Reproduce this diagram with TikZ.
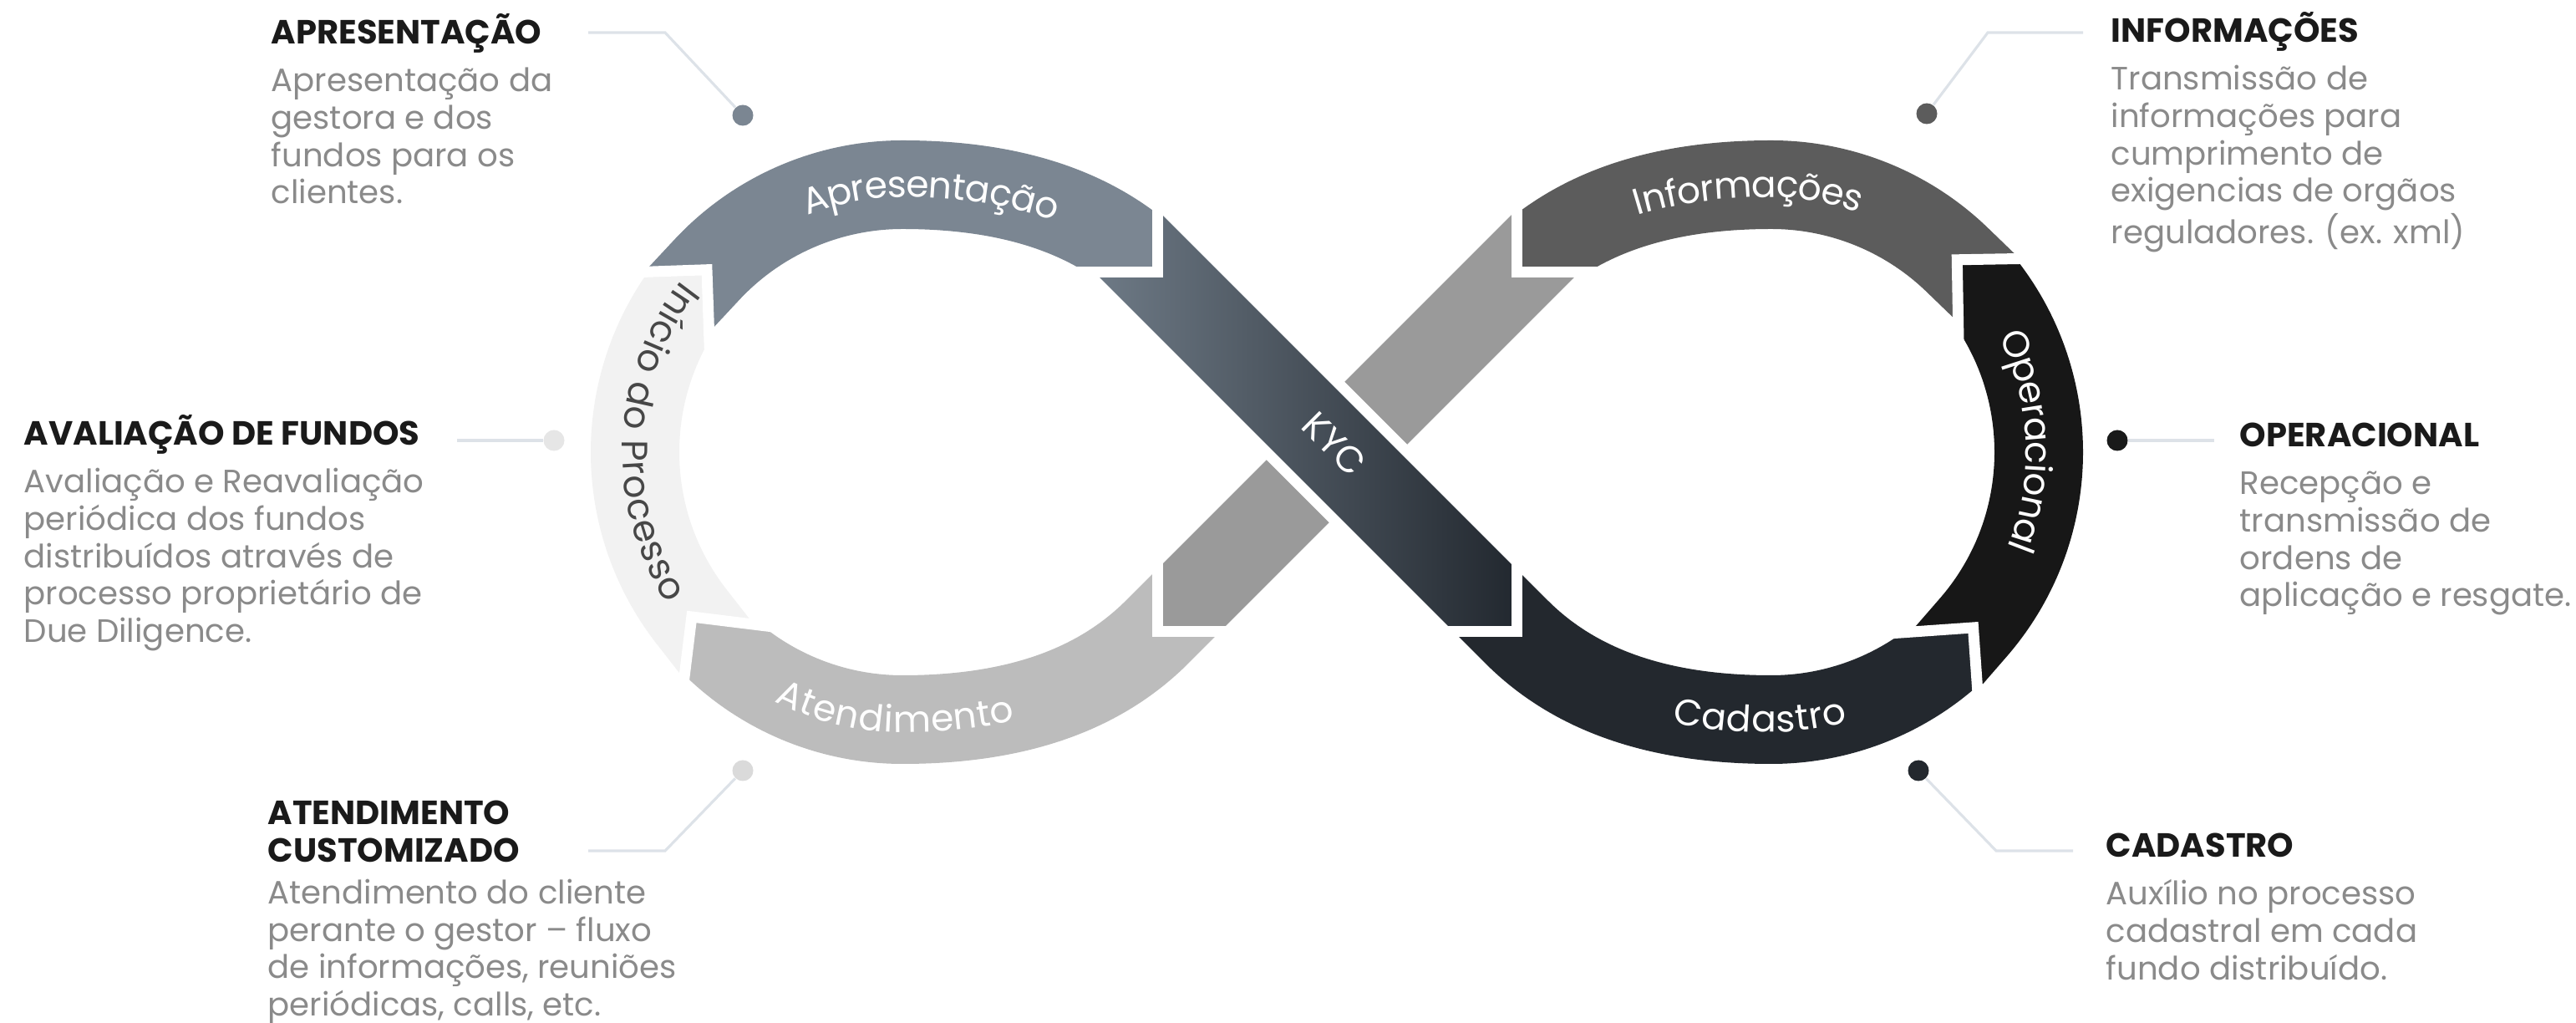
\documentclass[tikz,border=0pt]{standalone}
\usepackage{fontspec}
\setmainfont{Poppins}
\usetikzlibrary{calc,decorations.text}

\definecolor{apresgray}{HTML}{7B8692}
\definecolor{kyclight}{HTML}{6E7A86}
\definecolor{kycdark}{HTML}{22282F}
\definecolor{cadgray}{HTML}{23282E}
\definecolor{opblack}{HTML}{171717}
\definecolor{infogray}{HTML}{5C5C5C}
\definecolor{diaggray}{HTML}{9A9A9A}
\definecolor{atendgray}{HTML}{BCBCBC}
\definecolor{iniciogray}{HTML}{F2F2F2}
\definecolor{iniciotext}{HTML}{474747}
\definecolor{headblack}{HTML}{1A1A1A}
\definecolor{bodygray}{HTML}{8A8A8A}
\definecolor{leadgray}{HTML}{DDE2E8}

\newcommand{\bandfont}{\fontsize{12.5}{15}\selectfont}
\newcommand{\bodyfont}{\fontsize{11}{12.7}\selectfont}
\newcommand{\headfont}{\color{headblack}\bfseries\fontsize{11.4}{12.7}\selectfont}

% one piece of the loop: colour, start junction, start dir, end junction, end dir, path
\newcommand{\loopband}[6]{%
  \begin{scope}
    \clip[shift={(#2)}, rotate=#3]
      (-40,-40) -- (40,-40) -- (40,40) -- (-40,40) -- cycle
      (0,0) -- (-1,-1) -- (-1,1) -- cycle;
    \clip[shift={(#4)}, rotate=#5]
      (-40,-40) -- (40,-40) -- (40,40) -- (-40,40) -- cycle
      (0,0) -- (-1,1) -- (0.05,1) -- cycle (0,0) -- (0.05,-1) -- (-1,-1) -- cycle;
    \draw[#1, line width=1.06cm] ($(#2)+(#3:-0.6)$) -- (#2) #6;
  \end{scope}}

\begin{document}
\begin{tikzpicture}[
  lead/.style={draw=leadgray, line width=0.9pt},
  dot/.style={circle, inner sep=0pt, minimum size=0.25cm},
  info/.style={anchor=base west, inner sep=0pt, text=bodygray, font=\bodyfont},
  gapline/.style={white, line width=0.13cm, line join=miter},
  bandlabel/.style={decorate, decoration={text along path, text align=center,
    raise=-4.3pt, text={|\bandfont\color{white}|#1}}},
  darklabel/.style={decorate, decoration={text along path, text align=center,
    raise=-4.3pt, text={|\bandfont\color{iniciotext}|#1}}},
  toleft/.style={decoration={text align={center, right indent=#1}}},
  toright/.style={decoration={text align={center, left indent=#1}}}]
\useasboundingbox (0,0) rectangle (30.83,12.24);

\coordinate (x0) at (16.00,6.83);
\coordinate (cl) at (10.80,6.83);
\coordinate (cr) at (21.20,6.83);
\coordinate (pa) at (13.85,8.98);
\coordinate (pb) at (13.85,4.68);
\coordinate (pc) at (18.15,8.98);
\coordinate (pd) at (18.15,4.68);
\coordinate (j1) at ($(cl)+(218:3.2)$);
\coordinate (j2) at ($(cl)+(137:3.2)$);
\coordinate (j3) at ($(cr)+(319:3.2)$);
\coordinate (j4) at ($(cr)+(46:3.2)$);

% left loop
\loopband{atendgray}{pb}{225}{j1}{128}{.. controls (13.15,3.98) and (12.15,3.63) .. (10.80,3.63) arc[start angle=270, end angle=218, radius=3.2]}
\loopband{iniciogray}{j1}{128}{j2}{47}{arc[start angle=218, end angle=137, radius=3.2]}
\loopband{apresgray}{j2}{47}{pa}{-45}{arc[start angle=137, end angle=90, radius=3.2] .. controls (12.15,10.03) and (13.15,9.68) .. (pa)}
% right loop
\loopband{cadgray}{pd}{-45}{j3}{49}{.. controls (18.85,3.98) and (19.85,3.63) .. (21.20,3.63) arc[start angle=270, end angle=319, radius=3.2]}
\loopband{opblack}{j3}{49}{j4}{136}{arc[start angle=319, end angle=406, radius=3.2]}
\loopband{infogray}{j4}{136}{pc}{225}{arc[start angle=46, end angle=90, radius=3.2] .. controls (19.85,10.03) and (18.85,9.68) .. (pc)}

% crossing
\fill[diaggray, shift={(x0)}, rotate=225] (-3.57,0.53) -- (2.51,0.53) -- (3.04,0) -- (2.51,-0.53) -- (-3.57,-0.53) -- (-3.04,0) -- cycle;
\fill[white, shift={(x0)}, rotate=-45] (-1.3,-0.66) rectangle (1.3,0.66);
\shade[left color=kyclight, right color=kycdark, shift={(x0)}, rotate=-45] (-3.57,0.53) -- (2.51,0.53) -- (3.04,0) -- (2.51,-0.53) -- (-3.57,-0.53) -- (-3.04,0) -- cycle;

\foreach \j/\a in {pb/225, j1/128, j2/47, pa/-45, pd/-45, j3/49, j4/136, pc/225}
  \draw[gapline, shift={(\j)}, rotate=\a] (-0.85,0.85) -- (0,0) -- (-0.85,-0.85);

% labels on the loop
\path[bandlabel=Apresentação] (j2) arc[start angle=137, end angle=90, radius=3.2] .. controls (12.15,10.03) and (13.15,9.68) .. (pa);
\path[darklabel=Início do Processo] (j2) arc[start angle=137, end angle=218, radius=3.2];
\path[bandlabel=Atendimento, toleft=0.6cm] (j1) arc[start angle=218, end angle=270, radius=3.2] .. controls (12.15,3.63) and (13.15,3.98) .. (pb);
\path[bandlabel=Cadastro, toright=0.3cm] (pd) .. controls (18.85,3.98) and (19.85,3.63) .. (21.20,3.63) arc[start angle=270, end angle=319, radius=3.2];
\path[bandlabel=Operacional] (j4) arc[start angle=46, end angle=-41, radius=3.2];
\path[bandlabel=Informações, toright=0.3cm] (pc) .. controls (18.85,9.68) and (19.85,10.03) .. (21.20,10.03) arc[start angle=90, end angle=46, radius=3.2];
\node[rotate=-45, text=white, font=\bandfont] (kyc) at (15.97,6.93) {KYC};

% callouts
\node[dot, fill=apresgray] (dA) at (8.89,10.86) {};
\node[dot, fill=infogray] (dI) at (23.06,10.88) {};
\node[dot, fill=iniciogray!95!black] (dV) at (6.63,6.97) {};
\node[dot, fill=opblack!85!cadgray] (dO) at (25.34,6.97) {};
\node[dot, fill=atendgray!55] (dT) at (8.89,3.02) {};
\node[dot, fill=cadgray] (dC) at (22.96,3.02) {};
\coordinate (kA) at (7.96,11.85); \coordinate (eA) at (7.04,11.85);
\coordinate (kI) at (23.79,11.85); \coordinate (eI) at (24.93,11.85);
\coordinate (eV) at (5.47,6.97);
\coordinate (eO) at (26.50,6.97);
\coordinate (kT) at (7.96,2.06); \coordinate (eT) at (7.04,2.06);
\coordinate (kC) at (23.89,2.06); \coordinate (eC) at (24.81,2.06);
\draw[lead] (dA) -- (kA) -- (eA);
\draw[lead] (dI) -- (kI) -- (eI);
\draw[lead] (dV) -- (eV);
\draw[lead] (dO) -- (eO);
\draw[lead] (dT) -- (kT) -- (eT);
\draw[lead] (dC) -- (kC) -- (eC);

\node[info] (apres) at (3.24,11.71) {\begin{tabular}[t]{@{}l@{}}\headfont APRESENTAÇÃO\\[3.5pt]
  Apresentação da\\ gestora e dos\\ fundos para os\\ clientes.\end{tabular}};
\node[info] (infor) at (25.26,11.73) {\begin{tabular}[t]{@{}l@{}}\headfont INFORMAÇÕES\\[3.5pt]
  Transmissão de\\ informações para\\ cumprimento de\\ exigencias de orgãos\\ reguladores. (ex. xml)\end{tabular}};
\node[info] (aval) at (0.28,6.91) {\begin{tabular}[t]{@{}l@{}}\headfont AVALIAÇÃO DE FUNDOS\\[3.5pt]
  Avaliação e Reavaliação\\ periódica dos fundos\\ distribuídos através de\\ processo proprietário de\\ Due Diligence.\end{tabular}};
\node[info] (oper) at (26.80,6.89) {\begin{tabular}[t]{@{}l@{}}\headfont OPERACIONAL\\[3.5pt]
  Recepção e\\ transmissão de\\ ordens de\\ aplicação e resgate.\end{tabular}};
\node[info] (atend) at (3.20,2.37) {\begin{tabular}[t]{@{}l@{}}\headfont ATENDIMENTO\\ \headfont CUSTOMIZADO\\[1.5pt]
  Atendimento do cliente\\ perante o gestor – fluxo\\ de informações, reuniões\\ periódicas, calls, etc.\end{tabular}};
\node[info] (cad) at (25.20,1.98) {\begin{tabular}[t]{@{}l@{}}\headfont CADASTRO\\[3.5pt]
  Auxílio no processo\\ cadastral em cada\\ fundo distribuído.\end{tabular}};
\end{tikzpicture}
\end{document}
